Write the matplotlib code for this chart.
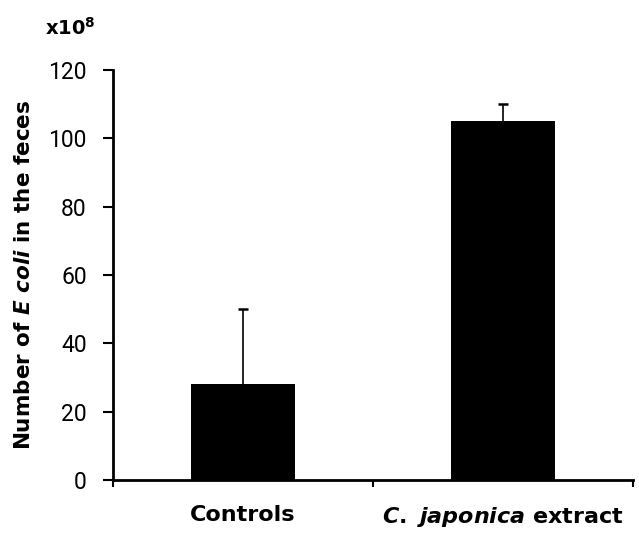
import matplotlib.pyplot as plt
import numpy as np

# data (x10^8 E. coli counts)
groups = ["Controls", "C. japonica extract"]
means = [28, 105]
errs = [22, 5]
yticks = [0, 20, 40, 60, 80, 100, 120]

plt.rcParams['mathtext.fontset'] = 'custom'
plt.rcParams['mathtext.it'] = 'DejaVu Sans:italic:bold'
plt.rcParams['mathtext.rm'] = 'DejaVu Sans:bold'
plt.rcParams['mathtext.bf'] = 'DejaVu Sans:bold'

fig = plt.figure(figsize=(6.39, 5.35), dpi=100)
ax = fig.add_axes([0.177, 0.103, 0.813, 0.766])

x = np.arange(len(groups))
ax.bar(x, means, width=0.4, color='black')
eb = ax.errorbar(x, means, yerr=[np.zeros(len(errs)), errs], fmt='none',
                 ecolor='black', elinewidth=1.2, capsize=3.3, capthick=1.8)
# only the upper half of the error bar is shown
eb[1][0].set_visible(False)

ax.set_xlim(-0.5, 1.5)
ax.set_ylim(0, 120)
ax.set_yticks(yticks)
ax.set_yticklabels([str(v) for v in yticks], family='Roboto', fontsize=16.5)

# category boundaries as major ticks, labels on minor ticks
ax.set_xticks([-0.5, 0.5, 1.5])
ax.set_xticklabels(['', '', ''])
ax.set_xticks(x, minor=True)
ax.set_xticklabels(['Controls', r'$C.$ $japonica$ extract'], minor=True,
                   fontsize=16, fontweight='bold')
ax.tick_params(axis='x', which='minor', length=0, pad=18)
ax.tick_params(axis='x', which='major', length=5, width=1.5, direction='out')
ax.tick_params(axis='y', length=7, width=1.5, direction='out', pad=12)

for s in ['top', 'right']:
    ax.spines[s].set_visible(False)
ax.spines['left'].set_linewidth(2)
ax.spines['bottom'].set_linewidth(2)

ax.set_ylabel(r'Number of $E\ coli$ in the feces', fontsize=15.5,
              fontweight='bold', labelpad=10)
fig.text(0.07, 0.935, r'x10$^{8}$', fontsize=14, fontweight='bold')

fig.savefig('out.png', dpi=100)
